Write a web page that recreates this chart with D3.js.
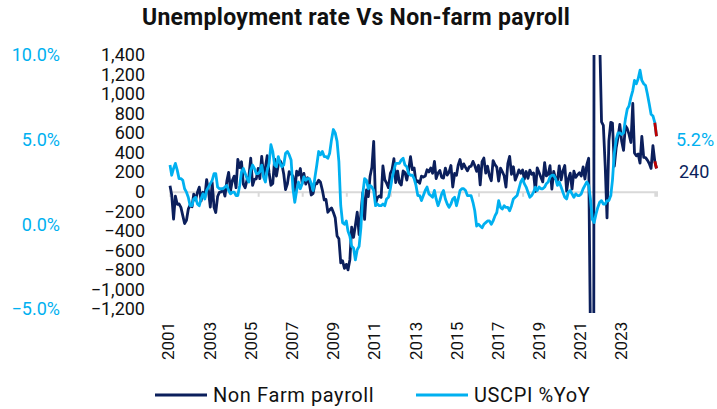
<!DOCTYPE html>
<html>
<head>
<meta charset="utf-8">
<script src="https://cdn.jsdelivr.net/npm/d3@7"></script>
<style>
  body { margin: 0; background: #fff; }
  text { font-family: Roboto, "Noto Sans", sans-serif; }
</style>
</head>
<body>
<div id="chart-area"></div>
<script>

var width = 717,
    height = 409;

// first month of the data (Feb 2001), one value per month after that
var startMonth = new Date(2001, 1, 1);

// Non farm payroll, monthly change (thousands)
var nfp = [
  61, -30, -281, -44, -128, -125, -160, -244, -325, -292, -178,          // 2001
  -134, -153, -24, -84, -7, 47, -94, -5, -57, 125, 8, -156,              // 2002
  95, -159, -212, -49, -5, -1, 28, -44, 109, 199, 11, 115,               // 2003
  160, 42, 332, 247, 307, 76, 41, 121, 159, 343, 65, 128,                // 2004
  133, 239, 134, 362, 171, 246, 369, 195, 67, 84, 334, 160,              // 2005
  277, 315, 281, 182, 23, 82, 207, 184, 157, 2, 210, 171,                // 2006
  238, 88, 188, 79, 143, 78, -33, -16, 85, 82, 118, 97,                  // 2007
  17, -84, -78, -210, -185, -165, -209, -266, -452, -481, -727, -706,    // 2008
  -784, -743, -800, -695, -362, -467, -345, -209, -439, -223, -9, -283,  // 2009
  18, -50, 156, 251, 516, -122, -61, -42, -57, 265, 123, 88,             // 2010
  42, 188, 225, 339, 94, 212, 93, 69, 213, 197, 120, 222,                // 2011
  360, 226, 243, 96, 112, 87, 160, 150, 161, 225, 203, 243,              // 2012
  190, 311, 135, 192, 218, 146, 140, 242, 171, 200, 269, 49,             // 2013
  187, 168, 272, 330, 236, 286, 249, 214, 255, 262, 311, 269,            // 2014
  209, 271, 70, 309, 345, 191, 262, 165, 113, 318, 277, 252,             // 2015
  110, 241, 207, 164, 48, 288, 363, 179, 256, 119, 166, 224,             // 2016
  190, 224, 128, 207, 138, 222, 179, 192, 3, 245, 197, 149,              // 2017
  101, 298, 162, 179, 267, 28, 208, 132, 111, 266, 122, 214,             // 2018
  269, 7, 134, 191, 28, 212, 148, 174, 194, 161, 254, 131,               // 2019
  277, 343, -1474, -20471, 2833, 4846, 1726, 1583, 716, 680, 263, -268,  // 2020
  520, 710, 704, 263, 447, 557, 689, 517, 424, 677, 647, 588,            // 2021
  504, 904, 398, 368, 386, 293, 568, 352, 350, 324, 290, 239,            // 2022
  472, 311, 240                                                          // 2023
];

// US CPI, % year on year
var cpi = [
  3.5, 2.9, 3.3, 3.6, 3.2, 2.7, 2.7, 2.6, 2.1, 1.9, 1.6,                 // 2001
  1.1, 1.1, 1.5, 1.6, 1.2, 1.1, 1.5, 1.8, 1.5, 2.0, 2.2, 2.4,            // 2002
  2.6, 3.0, 3.0, 2.2, 2.1, 2.1, 2.1, 2.2, 2.3, 2.0, 1.8, 1.9,            // 2003
  1.9, 1.7, 1.7, 2.3, 3.1, 3.3, 3.0, 2.7, 2.5, 3.2, 3.5, 3.3,            // 2004
  3.0, 3.0, 3.1, 3.5, 2.8, 2.5, 3.2, 3.6, 4.7, 4.3, 3.5, 3.4,            // 2005
  4.0, 3.6, 3.4, 3.5, 4.2, 4.3, 4.1, 3.8, 2.1, 1.3, 2.0, 2.5,            // 2006
  2.1, 2.4, 2.8, 2.6, 2.7, 2.7, 2.4, 2.0, 2.8, 3.5, 4.3, 4.1,            // 2007
  4.3, 4.0, 4.0, 3.9, 4.2, 5.0, 5.6, 5.4, 4.9, 3.7, 1.1, 0.1,            // 2008
  0.0, 0.2, -0.4, -0.7, -1.3, -1.4, -2.1, -1.5, -1.3, -0.2, 1.8, 2.7,    // 2009
  2.6, 2.1, 2.3, 2.2, 2.0, 1.1, 1.2, 1.1, 1.1, 1.2, 1.1, 1.5,            // 2010
  1.6, 2.1, 2.7, 3.2, 3.6, 3.6, 3.6, 3.8, 3.9, 3.5, 3.4, 3.0,            // 2011
  2.9, 2.9, 2.7, 2.3, 1.7, 1.7, 1.4, 1.7, 2.0, 2.2, 1.8, 1.7,            // 2012
  1.6, 2.0, 1.5, 1.1, 1.4, 1.8, 2.0, 1.5, 1.2, 1.0, 1.2, 1.5,            // 2013
  1.6, 1.1, 1.5, 2.0, 2.1, 2.1, 2.0, 1.7, 1.7, 1.7, 1.3, 0.8,            // 2014
  -0.1, 0.0, -0.1, -0.2, 0.0, 0.1, 0.2, 0.2, 0.0, 0.2, 0.5, 0.7,         // 2015
  1.4, 1.0, 0.9, 1.1, 1.0, 1.0, 0.8, 1.1, 1.5, 1.6, 1.7, 2.1,            // 2016
  2.5, 2.7, 2.4, 2.2, 1.9, 1.6, 1.7, 1.9, 2.2, 2.0, 2.2, 2.1,            // 2017
  2.1, 2.2, 2.4, 2.5, 2.8, 2.9, 2.9, 2.7, 2.3, 2.5, 2.2, 1.9,            // 2018
  1.6, 1.5, 1.9, 2.0, 1.8, 1.6, 1.8, 1.7, 1.7, 1.8, 2.1, 2.3,            // 2019
  2.5, 2.3, 1.5, 0.3, 0.1, 0.6, 1.0, 1.3, 1.4, 1.2, 1.2, 1.4,            // 2020
  1.4, 1.7, 2.6, 4.2, 5.0, 5.4, 5.4, 5.3, 5.4, 6.2, 6.8, 7.0,            // 2021
  7.5, 7.9, 8.5, 8.3, 8.6, 9.1, 8.5, 8.3, 8.2, 7.7, 7.1, 6.5,            // 2022
  6.4, 6.0, 5.2                                                          // 2023
];

var yearLabels = ["2001", "2003", "2005", "2007", "2009", "2011",
                  "2013", "2015", "2017", "2019", "2021", "2023"];
var nfpTicks = d3.range(-1200, 1401, 200);
var cpiTicks = [-5, 0, 5, 10];

var navy = "#0b1f5c",
    sky = "#00b0f0",
    red = "#c00000";

var svg = d3.select("#chart-area").append("svg")
    .attr("width", width)
    .attr("height", height);

var months = nfp.map(function(d, i) { return d3.timeMonth.offset(startMonth, i); });
var lastMonth = months[months.length - 1];

var x = d3.scaleTime()
    .domain([startMonth, lastMonth])
    .range([170, 656.5]);

var yN = d3.scaleLinear()
    .domain([-1200, 1400])
    .range([309, 55]);

var yC = d3.scaleLinear()
    .domain([-5, 10])
    .range([309, 55]);

// title
svg.append("text")
    .attr("x", 356)
    .attr("y", 25)
    .attr("text-anchor", "middle")
    .style("font-size", "23px")
    .style("font-weight", "bold")
    .style("letter-spacing", "0.3px")
    .style("fill", "#111")
    .text("Unemployment rate Vs Non-farm payroll");

// left axes, both drawn as plain labels
var axisN = d3.axisLeft(yN).tickValues(nfpTicks).tickSize(0).tickFormat(d3.format(","));
svg.append("g")
    .attr("transform", "translate(148,0)")
    .call(axisN)
    .call(g => g.select(".domain").remove())
    .selectAll("text")
    .style("font-size", "18px")
    .style("fill", "#111");

var axisC = d3.axisLeft(yC).tickValues(cpiTicks).tickSize(0).tickFormat(d => d3.format(".1f")(d) + "%");
svg.append("g")
    .attr("transform", "translate(63,0)")
    .call(axisC)
    .call(g => g.select(".domain").remove())
    .selectAll("text")
    .style("font-size", "18px")
    .style("fill", sky);

// category axis through zero, tick every 24 months
var xTicks = d3.timeMonth.range(startMonth, d3.timeMonth.offset(lastMonth, 1), 24);
var axisX = d3.axisBottom(x).tickValues(xTicks).tickSize(5).tickFormat("");
svg.append("g")
    .attr("transform", "translate(0," + yN(0) + ")")
    .call(axisX)
    .call(g => g.select(".domain").attr("stroke", "#d9d9d9").attr("stroke-width", 2))
    .call(g => g.selectAll(".tick line").attr("stroke", "#d9d9d9").attr("stroke-width", 2));

// year labels, rotated
var xl = d3.scalePoint().domain(yearLabels).range([168.5, 621.5]);
svg.append("g").selectAll("text")
    .data(yearLabels)
    .enter()
    .append("text")
    .attr("transform", d => "translate(" + xl(d) + ",360) rotate(-90)")
    .attr("text-anchor", "start")
    .attr("dy", "0.35em")
    .style("font-size", "17px")
    .style("fill", "#111")
    .text(d => d);

// lines
svg.append("clipPath").attr("id", "plot")
  .append("rect")
    .attr("x", 150).attr("y", 55)
    .attr("width", 530).attr("height", 258);

var lineN = d3.line()
    .x((d, i) => x(months[i]))
    .y(d => yN(d));

var lineC = d3.line()
    .x((d, i) => x(months[i]))
    .y(d => yC(d));

var plot = svg.append("g").attr("clip-path", "url(#plot)");

plot.append("path")
    .datum(nfp)
    .attr("d", lineN)
    .attr("fill", "none")
    .attr("stroke", navy)
    .attr("stroke-width", 2.8)
    .attr("stroke-linejoin", "round");

plot.append("path")
    .datum(cpi)
    .attr("d", lineC)
    .attr("fill", "none")
    .attr("stroke", sky)
    .attr("stroke-width", 2.8)
    .attr("stroke-linejoin", "round");

// latest month in red
var n = nfp.length;
[[nfp, yN], [cpi, yC]].forEach(function(s) {
  var vals = s[0], ys = s[1];
  plot.append("path")
      .datum([n - 2, n - 1])
      .attr("d", d3.line().x(i => x(months[i])).y(i => ys(vals[i])))
      .attr("fill", "none")
      .attr("stroke", red)
      .attr("stroke-width", 2.8);
});

// end labels
svg.append("text")
    .attr("x", 676)
    .attr("y", yC(cpi[n - 1]) + 3)
    .attr("dy", "0.35em")
    .style("font-size", "18px")
    .style("fill", sky)
    .text(d3.format(".1f")(cpi[n - 1]) + "%");

svg.append("text")
    .attr("x", 679)
    .attr("y", yN(nfp[n - 1]) + 3)
    .attr("dy", "0.35em")
    .style("font-size", "18px")
    .style("fill", navy)
    .text(nfp[n - 1]);

// legend
var legend = [
  { name: "Non Farm payroll", color: navy, x: 155 },
  { name: "USCPI %YoY", color: sky, x: 416 }
];
var lg = svg.selectAll(".legend")
    .data(legend)
    .enter()
    .append("g")
    .attr("class", "legend")
    .attr("transform", d => "translate(" + d.x + ",395)");

lg.append("line")
    .attr("x1", 0).attr("x2", 52)
    .attr("stroke", d => d.color)
    .attr("stroke-width", 3);

lg.append("text")
    .attr("x", 58)
    .attr("dy", "0.35em")
    .style("font-size", "20px")
    .style("letter-spacing", "0.6px")
    .style("fill", "#111")
    .text(d => d.name);

</script>
</body>
</html>
